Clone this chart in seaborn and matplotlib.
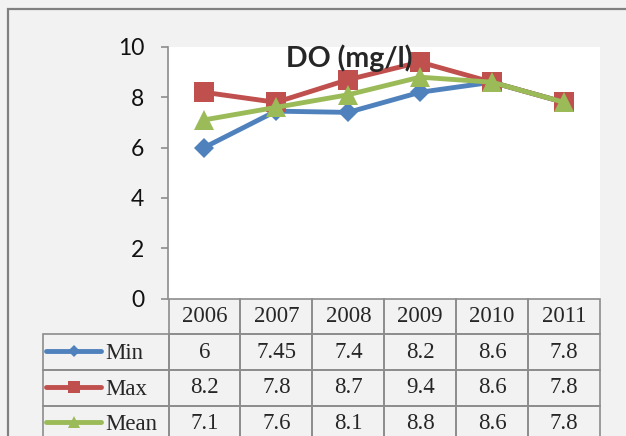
import matplotlib
matplotlib.use("Agg")
import matplotlib.pyplot as plt
from matplotlib.patches import Rectangle
import seaborn as sns
import pandas as pd

years = ["2006", "2007", "2008", "2009", "2010", "2011"]
do_min = [6, 7.45, 7.4, 8.2, 8.6, 7.8]
do_max = [8.2, 7.8, 8.7, 9.4, 8.6, 7.8]
do_mean = [7.1, 7.6, 8.1, 8.8, 8.6, 7.8]
series_names = ["Min", "Max", "Mean"]
series_colors = ["#4F81BD", "#C0504D", "#9BBB59"]
series_markers = ["D", "s", "^"]
series_msize = [10, 14, 14]

sns.set_style("white")
plt.rcParams["font.family"] = ["Lato", "DejaVu Sans"]

W, H = 626, 436
fig = plt.figure(figsize=(W / 100, H / 100), dpi=100, facecolor="#f2f2f2")

# plot area (pixels: x 168-600, y 47-298.5)
ax = fig.add_axes([168 / W, (H - 298.5) / H, 432 / W, 251.5 / H])
ax.set_facecolor("white")

df = pd.DataFrame({"pos": range(len(years)), "Min": do_min, "Max": do_max, "Mean": do_mean})
for name, col, mk, ms in zip(series_names, series_colors, series_markers, series_msize):
    sns.lineplot(data=df, x="pos", y=name, ax=ax, color=col, linewidth=3.5,
                 marker=mk, markersize=ms, markeredgewidth=0, label=name)

ax.set_xlim(-0.5, len(years) - 0.5)
ax.set_ylim(0, 10)
ax.set_yticks([0, 2, 4, 6, 8, 10])
ax.set_xticks([])
ax.set_xlabel("")
ax.set_ylabel("")
for s in ["top", "right", "bottom"]:
    ax.spines[s].set_visible(False)
ax.spines["left"].set_color("#8c8c8c")
ax.spines["left"].set_linewidth(1.2)
ax.tick_params(axis="y", direction="out", length=5, width=1.2, color="#8c8c8c",
               pad=12, labelsize=16.5, labelcolor="#111111", left=True)
for t in ax.get_yticklabels():
    t.set_fontfamily("Lato")

# data table below the plot: first column holds the legend keys
table_w = 600 - 42.7
row_h = 35.7
cell_text = [[""] + [f"{v:g}" for v in vals] for vals in (do_min, do_max, do_mean)]
tbl = ax.table(cellText=cell_text, colLabels=[""] + years,
               cellLoc="center", colWidths=[126 / table_w] + [72 / table_w] * 6,
               bbox=[(42.7 - 168) / 432, -4 * row_h / 251.5, table_w / 432, 4 * row_h / 251.5])
tbl.auto_set_font_size(False)
for key, cell in tbl.get_celld().items():
    cell.set_edgecolor("#8c8c8c")
    cell.set_linewidth(1.2)
    cell.set_facecolor("none")
    cell.get_text().set_fontfamily("Liberation Serif")
    cell.get_text().set_fontsize(16.5)
tbl[0, 0].set_visible(False)

handles, labels = ax.get_legend_handles_labels()
ax.legend(handles, labels, loc="upper left",
          bbox_to_anchor=(46 / W, (H - 343) / H), bbox_transform=fig.transFigure,
          frameon=False, prop={"family": "Liberation Serif", "size": 16.5},
          handlelength=2.4, handletextpad=0.2, labelspacing=0.64,
          markerscale=0.6, borderpad=0, borderaxespad=0)

fig.text(349 / W, (H - 67) / H, "DO (mg/l)", ha="center", va="baseline",
         fontsize=20.5, fontweight="bold", fontfamily="Lato")

# outer chart border
fig.patches.append(Rectangle((8 / W, -0.2), 1.2, (H - 9) / H + 0.2,
                             transform=fig.transFigure, fill=False,
                             edgecolor="#808080", linewidth=1.6))

fig.savefig("out.png", dpi=100, facecolor=fig.get_facecolor())
